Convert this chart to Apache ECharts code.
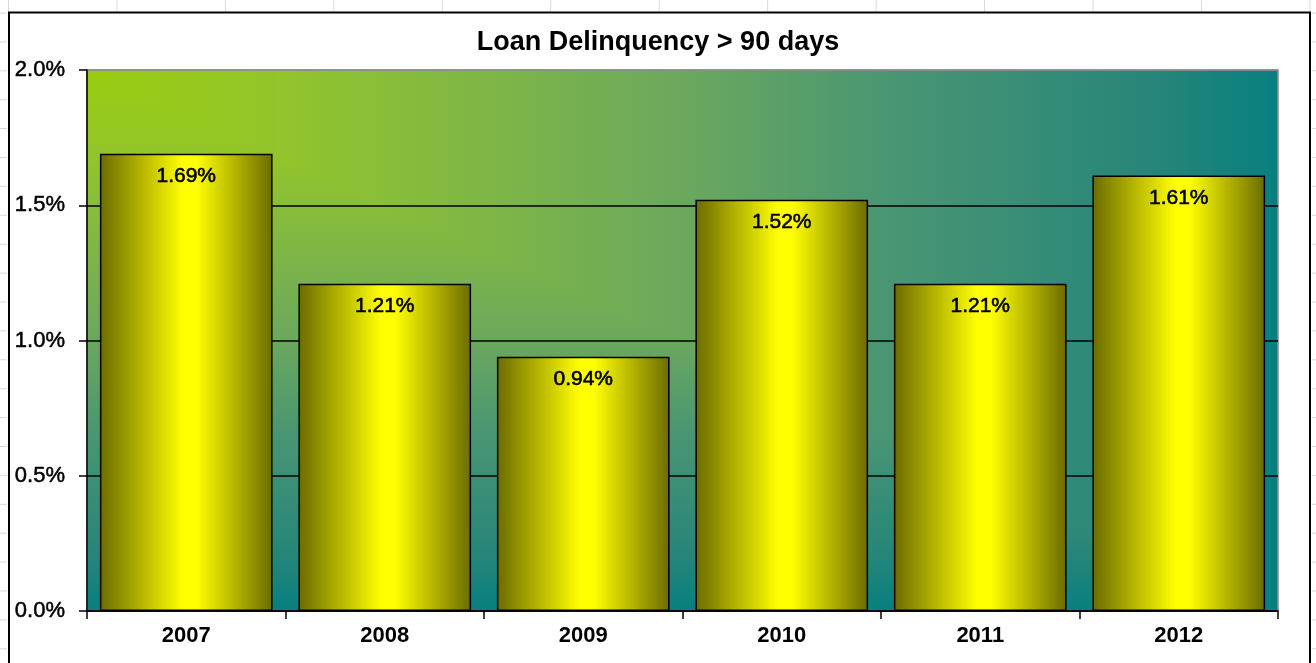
<!DOCTYPE html>
<html>
<head>
<meta charset="utf-8">
<script src="https://cdn.jsdelivr.net/npm/echarts@6/dist/echarts.min.js"></script>
<style>
html,body{margin:0;padding:0;background:#fff;}
#main{width:1316px;height:663px;}
</style>
</head>
<body>
<div id="main"></div>
<script>
var years = ['2007', '2008', '2009', '2010', '2011', '2012'];
var delinquency = [1.69, 1.21, 0.94, 1.52, 1.21, 1.61];
var yTicks = [0, 0.5, 1.0, 1.5, 2.0];

var chart = echarts.init(document.getElementById('main'));

// plot area box (px)
var gl = 87, gt = 70, gr = 1278, gb = 611;
var font = '"Liberation Sans", Arial, sans-serif';

// excel "from corner" fill: colour stops of the plot background
var bgStops = [
    {offset: 0, color: '#99cc0f'},
    {offset: 0.17, color: '#92c42d'},
    {offset: 0.5, color: '#6ba85e'},
    {offset: 0.67, color: '#4a9673'},
    {offset: 0.9, color: '#268579'},
    {offset: 1, color: '#078080'}
];

var deco = [];
// faint spreadsheet cells around the chart
for (var k = 0; k < 13; k++) {
    var x = 8.5 + k * 108.45;
    deco.push({type: 'line', silent: true, z: -5,
        shape: {x1: x, y1: 0, x2: x, y2: 12},
        style: {stroke: '#d9d9d9', lineWidth: 1}});
}
for (var k = 0; k < 23; k++) {
    var y = 13 + k * 28.9;
    deco.push({type: 'line', silent: true, z: -5,
        shape: {x1: 0, y1: y, x2: 7, y2: y},
        style: {stroke: '#d9d9d9', lineWidth: 1}});
    deco.push({type: 'line', silent: true, z: -5,
        shape: {x1: 1312, y1: y, x2: 1316, y2: y},
        style: {stroke: '#d9d9d9', lineWidth: 1}});
}
// chart frame
deco.push({type: 'rect', silent: true, z: -4,
    shape: {x: 9, y: 12.5, width: 1301, height: 680},
    style: {fill: null, stroke: '#000', lineWidth: 2}});
// plot background: vertical part then horizontal triangle on top
deco.push({type: 'rect', silent: true, z: -3,
    shape: {x: gl, y: gt, width: gr - gl, height: gb - gt},
    style: {fill: new echarts.graphic.LinearGradient(0, 0, 0, 1, bgStops)}});
deco.push({type: 'polygon', silent: true, z: -2,
    shape: {points: [[gl, gt], [gr, gt], [gr, gb]]},
    style: {fill: new echarts.graphic.LinearGradient(0, 0, 1, 0, bgStops)}});

var option = {
    backgroundColor: '#fff',
    animation: false,
    title: {
        text: 'Loan Delinquency > 90 days',
        left: 'center',
        top: 24,
        textStyle: {fontFamily: font, fontSize: 27, fontWeight: 'bold', color: '#000'}
    },
    grid: {
        left: gl, top: gt, right: 1316 - gr, bottom: 663 - gb,
        show: true,
        backgroundColor: 'transparent',
        borderColor: '#8c8c8c',
        borderWidth: 1.5
    },
    graphic: deco,
    xAxis: {
        type: 'category',
        data: years,
        axisLine: {lineStyle: {color: '#000', width: 1.5}},
        axisTick: {show: true, length: 8, lineStyle: {color: '#000', width: 1.5}},
        axisLabel: {
            margin: 14,
            fontFamily: font, fontSize: 22, fontWeight: 'bold', color: '#000'
        }
    },
    yAxis: {
        type: 'value',
        min: yTicks[0],
        max: yTicks[yTicks.length - 1],
        interval: 0.5,
        axisLine: {show: true, lineStyle: {color: '#000', width: 1.5}},
        axisTick: {show: true, length: 8, lineStyle: {color: '#000', width: 1.5}},
        axisLabel: {
            margin: 22,
            fontFamily: font, fontSize: 22, color: '#000',
            textBorderColor: '#000', textBorderWidth: 0.5,
            formatter: function (v) { return v.toFixed(1) + '%'; }
        },
        splitLine: {
            show: true,
            lineStyle: {color: ['#000', '#000', '#000', '#000', '#8c8c8c'], width: 1.5}
        }
    },
    series: [{
        name: 'Delinquency',
        type: 'bar',
        data: delinquency,
        barCategoryGap: '13%',
        itemStyle: {
            color: new echarts.graphic.LinearGradient(0, 0, 1, 0, [
                {offset: 0, color: '#6b6b00'},
                {offset: 0.48, color: '#ffff00'},
                {offset: 0.56, color: '#ffff00'},
                {offset: 1, color: '#6b6b00'}
            ]),
            borderColor: '#000',
            borderWidth: 1.5
        },
        label: {
            show: true,
            position: 'insideTop',
            distance: 12,
            fontFamily: font, fontSize: 21, color: '#000',
            textBorderColor: '#000', textBorderWidth: 0.6,
            formatter: function (p) { return p.value.toFixed(2) + '%'; }
        }
    }]
};
chart.setOption(option);
</script>
</body>
</html>
